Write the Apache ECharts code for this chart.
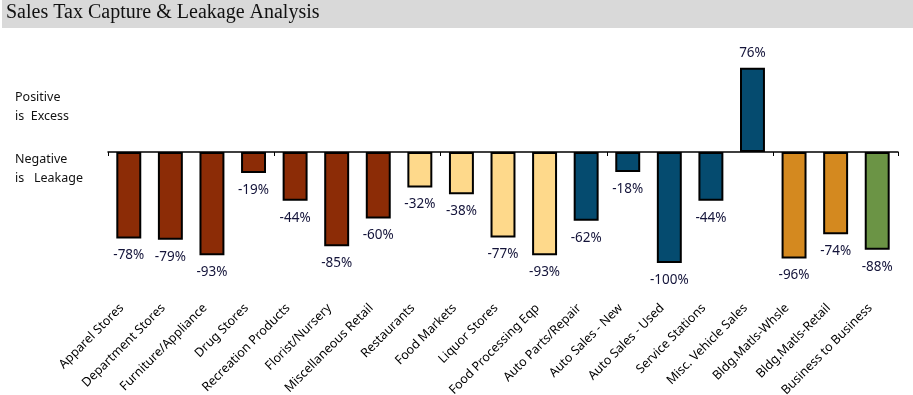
<!DOCTYPE html>
<html><head><meta charset="utf-8">
<script src="https://cdn.jsdelivr.net/npm/echarts@6/dist/echarts.min.js"></script>
<style>html,body{margin:0;padding:0;background:#fff}#c{width:913px;height:395px}</style>
</head><body><div id="c"></div>
<script>
const categories = ["Apparel Stores","Department Stores","Furniture/Appliance","Drug Stores","Recreation Products","Florist/Nursery","Miscellaneous Retail","Restaurants","Food Markets","Liquor Stores","Food Processing Eqp","Auto Parts/Repair","Auto Sales - New","Auto Sales - Used","Service Stations","Misc. Vehicle Sales","Bldg.Matls-Whsle","Bldg.Matls-Retail","Business to Business"];
const values = [-78,-79,-93,-19,-44,-85,-60,-32,-38,-77,-93,-62,-18,-100,-44,76,-96,-74,-88];
const groups = ["general","general","general","general","general","general","general","food","food","food","food","auto","auto","auto","auto","auto","building","building","business"];
const groupColors = {general:"#8C2C06", food:"#FED98B", auto:"#054B6F", building:"#D4891F", business:"#6B9445"};

const chart = echarts.init(document.getElementById('c'));
chart.setOption({
  animation:false,
  graphic:[
    {type:'rect', shape:{x:2,y:0,width:911,height:28}, style:{fill:'#D9D9D9'}},
    {type:'text', left:6, top:3, style:{text:'Sales Tax Capture & Leakage Analysis', font:'20px "Liberation Serif", serif', fill:'#111'}},
    {type:'text', left:15, top:88, style:{text:'Positive\nis  Excess', font:'12.5px "Noto Sans", sans-serif', lineHeight:19, fill:'#111'}},
    {type:'text', left:15, top:150, style:{text:'Negative\nis   Leakage', font:'12.5px "Noto Sans", sans-serif', lineHeight:19, fill:'#111'}}
  ],
  grid:{left:108, right:15, top:41, bottom:132, containLabel:false, outerBoundsMode:'none'},
  xAxis:[
    {type:'category', data:categories, position:'bottom',
     axisLine:{onZero:true, lineStyle:{color:'#000', width:1.5}},
     axisTick:{show:true, length:4, lineStyle:{color:'#000'}},
     axisLabel:{show:false}},
    {type:'category', data:categories, position:'bottom',
     axisLine:{show:false, onZero:false}, axisTick:{show:false},
     axisLabel:{rotate:45, margin:36, interval:0, padding:[0,10,0,0], color:'#000', fontSize:12.5, fontFamily:'"Noto Sans", sans-serif'}}
  ],
  yAxis:{type:'value', min:-100, max:100, show:false, splitLine:{show:false}},
  series:[{
    type:'bar', xAxisIndex:0, barWidth:'60%',
    data: values.map((v,i)=>({value:v, itemStyle:{color:groupColors[groups[i]]}, label: v>=0?{position:'top', distance:7}:{}})),
    itemStyle:{borderColor:'#000', borderWidth:2},
    label:{show:true, position:'bottom', distance:10, formatter:p=>p.value+'%', color:'#14143a', fontSize:13.5, fontFamily:'"Noto Sans", sans-serif'}
  }]
});
</script></body></html>
